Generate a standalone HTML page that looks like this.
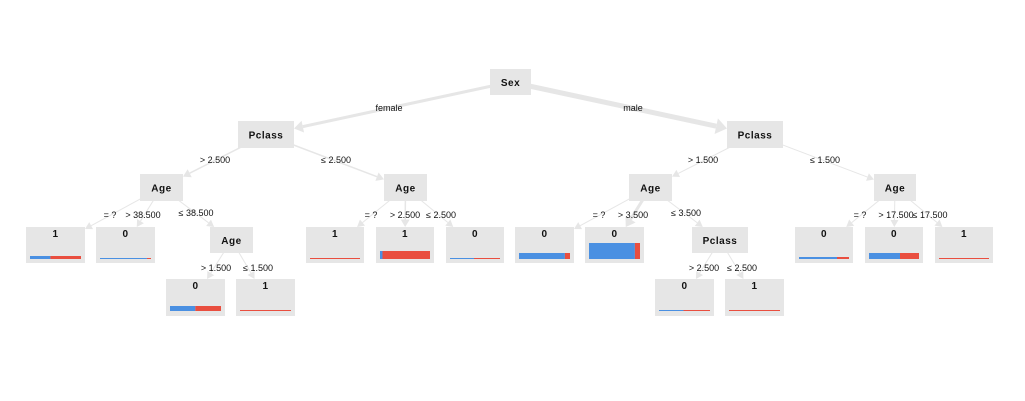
<!DOCTYPE html>
<html><head><meta charset="utf-8">
<style>
html,body{margin:0;padding:0;background:#fff;}
svg{display:block;font-family:"Liberation Sans",Arial,sans-serif;}
</style></head>
<body>
<svg id="tree" width="1025" height="401" viewBox="0 0 1025 401"></svg>
<script>
// node data: id, label, parent, edge label, edge width
const nodeIds = ["sex","pl","pr","all","alr","allr","arl","arr","prlr",
 "l1","l2","l3","l4","l5","l6","l7","r1","r2","r3","r4","r5","r6","r7"];
const nodeLabels = ["Sex","Pclass","Pclass","Age","Age","Age","Age","Age","Pclass",
 "1","0","1","1","0","0","1","0","0","0","0","1","0","1"];
const nodeParents = [null,"sex","sex","pl","pl","all","pr","pr","arl",
 "all","all","alr","alr","alr","allr","allr","arl","arl","arr","arr","arr","prlr","prlr"];
const edgeLabels = [null,"female","male","> 2.500","≤ 2.500","≤ 38.500","> 1.500","≤ 1.500","≤ 3.500",
 "= ?","> 38.500","= ?","> 2.500","≤ 2.500","> 1.500","≤ 1.500","= ?","> 3.500","= ?","> 17.500","≤ 17.500","> 2.500","≤ 2.500"];
const edgeWidths = [0,3,5,1.5,1.5,1,1,1,1,1,1,1,1.5,1,1,1,1,3,1,1,1,1,1];
// leaf class counts [blue(0), red(1)]
const leafBlue = [30,23,0,10,12,62,0,135,360,38,93,0,12,0];
const leafRed  = [45,2,25,190,13,63,25,15,40,12,57,25,13,25];
// layout (boxes)
const boxes = {
 sex:[490,69,41,26], pl:[238,121,56,27], pr:[727,121,56,27],
 all:[140,174,43,27], alr:[384,174,43,27], allr:[210,227,43,26],
 arl:[629,174,43,27], arr:[874,174,42,27], prlr:[692,227,56,26],
 l1:[26,227,59,36], l2:[96,227,59,36], l3:[306,227,58,36], l4:[376,227,58,36], l5:[446,227,58,36],
 l6:[166,279,59,37], l7:[236,279,59,37],
 r1:[515,227,59,36], r2:[585,227,59,36], r3:[795,227,58,36], r4:[865,227,58,36], r5:[935,227,58,36],
 r6:[655,279,59,37], r7:[725,279,59,37]
};
const edgeLabelPos = {
 pl:[389,108], pr:[633,108], all:[215,160], alr:[336,160], allr:[196,213],
 l1:[110,215], l2:[143,215], l3:[371,215], l4:[405,215], l5:[441,215],
 l6:[216,268], l7:[258,268], arl:[703,160], arr:[825,160], prlr:[686,213],
 r1:[599,215], r2:[633,215], r3:[860,215], r4:[896,215], r5:[930,215],
 r6:[704,268], r7:[742,268]
};
const leafOrder = ["l1","l2","l3","l4","l5","l6","l7","r1","r2","r3","r4","r5","r6","r7"];
const NS="http://www.w3.org/2000/svg";
const svg=document.getElementById('tree');
function mk(t,a){const e=document.createElementNS(NS,t);for(const k in a)e.setAttribute(k,a[k]);return e;}
const scaleH = v => Math.max(1, v/25);
const gE=mk('g',{});   svg.appendChild(gE);
const gN=mk('g',{});   svg.appendChild(gN);
nodeIds.forEach((id,i)=>{
  const p=nodeParents[i]; if(!p) return;
  const pb=boxes[p], cb=boxes[id];
  const x1=pb[0]+pb[2]/2, y1=pb[1]+pb[3]/2;
  const cx=cb[0]+cb[2]/2, cy=cb[1]+cb[3]/2;
  // intersect with child box
  const dx=cx-x1, dy=cy-y1;
  const tx=(cb[2]/2)/Math.abs(dx||1e-6), ty=(cb[3]/2)/Math.abs(dy||1e-6);
  const t=1-Math.min(tx,ty);
  const x2=x1+dx*t, y2=y1+dy*t;
  const len=Math.hypot(dx,dy), ux=dx/len, uy=dy/len;
  const w=edgeWidths[i], ah=6+w, aw=3+w;
  const bx=x2-ux*ah, by=y2-uy*ah;
  const line=mk('line',{x1:x1,y1:y1,x2:bx,y2:by,stroke:'#e6e6e6','stroke-width':w});
  
  
  gE.appendChild(line);
  const arrow=mk('polygon',{points:`${x2},${y2} ${bx-uy*aw},${by+ux*aw} ${bx+uy*aw},${by-ux*aw}`,fill:'#e6e6e6'});
  
  
  gE.appendChild(arrow);
  const lp=edgeLabelPos[id];
  const tl=mk('text',{x:lp[0],y:lp[1]+3,'text-anchor':'middle','font-size':'9',fill:'#111'});
  tl.textContent=edgeLabels[i];
  
  
  gE.appendChild(tl);
});
nodeIds.forEach((id,i)=>{
  const b=boxes[id]; const li=leafOrder.indexOf(id);
  const g=mk('g',{});
  
  
  g.appendChild(mk('rect',{x:b[0],y:b[1],width:b[2],height:b[3],fill:'#e6e6e6'}));
  const ty = li>=0 ? b[1]+10 : b[1]+b[3]/2+4;
  const t=mk('text',{x:b[0]+b[2]/2,y:ty,'text-anchor':'middle','font-size':'10','font-weight':'bold',fill:'#111','letter-spacing':'0.5'});
  t.textContent=nodeLabels[i];
  g.appendChild(t);
  if(li>=0){
    const bl=leafBlue[li], rd=leafRed[li], tot=bl+rd;
    const h=scaleH(tot), x0=b[0]+4, w=b[2]-8, yb=b[1]+32;
    const bw=w*bl/tot;
    const r1=mk('rect',{x:x0,y:yb-h,width:bw,height:h,fill:'#4a90e2'});
    
    
    g.appendChild(r1);
    const r2=mk('rect',{x:x0+bw,y:yb-h,width:w-bw,height:h,fill:'#e94e3f'});
    
    
    g.appendChild(r2);
  }
  gN.appendChild(g);
});
</script>
</body></html>
